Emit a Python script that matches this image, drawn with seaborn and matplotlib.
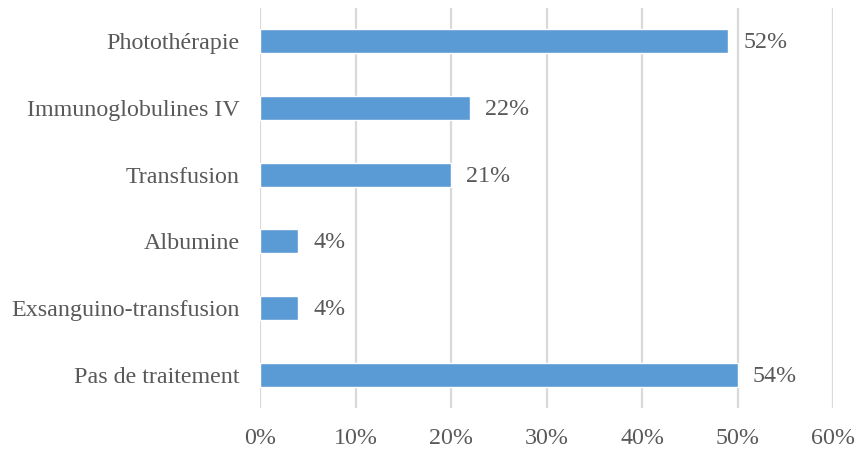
import matplotlib
matplotlib.use("Agg")
import matplotlib.pyplot as plt
import seaborn as sns
import pandas as pd
from matplotlib.ticker import FuncFormatter

categories = ["Photothérapie", "Immunoglobulines IV", "Transfusion", "Albumine",
              "Exsanguino-transfusion", "Pas de traitement"]
values = [49, 22, 20, 4, 4, 50]
labels = ["52%", "22%", "21%", "4%", "4%", "54%"]
xticks = [0, 10, 20, 30, 40, 50, 60]

sns.set_theme(style="white")
plt.rcParams['font.family'] = ['Liberation Serif', 'DejaVu Serif']

df = pd.DataFrame({"cat": categories, "val": values})

fig = plt.figure(figsize=(8.61, 4.5), dpi=100)
ax = fig.add_axes([0.302, 0.0924, 0.6655, 0.8907])

sns.barplot(data=df, x="val", y="cat", orient="h", color="#5B9BD5",
            saturation=1, width=0.36, ax=ax, zorder=3)

for i, (v, lab) in enumerate(zip(values, labels)):
    ax.annotate(lab, xy=(v, i), xytext=(11, -1), textcoords="offset points",
                ha="left", va="center", fontsize=17.3, color="#595959")

ax.set_xlim(0, 60)
ax.set_ylim(len(categories) - 0.5, -0.5)
ax.set_xticks(xticks)
ax.xaxis.set_major_formatter(FuncFormatter(lambda x, p: f"{int(x)}%"))
ax.grid(axis="x", color="#D9D9D9", linewidth=1.6, zorder=0)
ax.grid(axis="y", visible=False)
for s in ax.spines.values():
    s.set_visible(False)
ax.set_xlabel("")
ax.set_ylabel("")
ax.tick_params(axis="both", length=0, labelsize=17.3, colors="#595959")
ax.tick_params(axis="x", pad=14)
ax.tick_params(axis="y", pad=14.5)

fig.savefig("out.png", dpi=100, facecolor="white")
